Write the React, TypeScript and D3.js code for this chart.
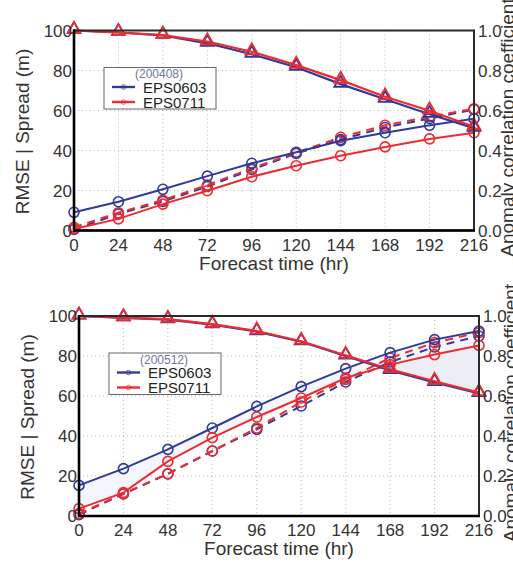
import React from "react";
import * as d3 from "d3";

const hours = [0, 24, 48, 72, 96, 120, 144, 168, 192, 216];
const leftTicks = [0, 20, 40, 60, 80, 100];
const rightTicks = [0, 0.2, 0.4, 0.6, 0.8, 1.0];

// Panel A (200408)
const accA0603 = [1.0, 0.99, 0.976, 0.936, 0.881, 0.816, 0.732, 0.656, 0.581, 0.512];
const accA0711 = [1.0, 0.99, 0.977, 0.944, 0.894, 0.827, 0.752, 0.669, 0.599, 0.519];
const rmseA0603 = [9.1, 14.4, 20.6, 27.2, 33.6, 39.1, 44.9, 48.9, 52.6, 55.9];
const rmseA0711 = [0.8, 5.8, 13.2, 19.9, 26.9, 32.4, 37.4, 41.8, 45.8, 48.9];
const spreadA0603 = [0.5, 8.3, 14.5, 22.0, 30.5, 38.5, 45.5, 51.5, 56.0, 60.5];
const spreadA0711 = [1.6, 8.9, 15.2, 22.7, 31.1, 38.9, 46.6, 52.6, 56.9, 60.9];

// Panel B (200512)
const accB0603 = [1.0, 0.991, 0.982, 0.957, 0.922, 0.871, 0.8, 0.728, 0.668, 0.613];
const accB0711 = [1.0, 0.992, 0.984, 0.959, 0.925, 0.874, 0.804, 0.734, 0.674, 0.617];
const rmseB0603 = [15.3, 23.7, 33.3, 44.0, 54.8, 64.7, 73.7, 81.7, 88.2, 92.5];
const rmseB0711 = [3.7, 11.7, 27.3, 39.2, 49.5, 59.0, 69.0, 75.7, 80.7, 85.3];
const spreadB0603 = [0.7, 11.0, 21.0, 32.5, 43.3, 55.0, 67.0, 77.0, 84.5, 90.0];
const spreadB0711 = [1.2, 11.2, 21.2, 32.5, 44.0, 57.0, 68.3, 79.0, 86.7, 91.7];

const seriesNames = ["EPS0603", "EPS0711"];
const periodA = "(200408)";
const periodB = "(200512)";
const BLUE = "#2f3a9a";
const RED = "#ee2b30";
const FONT = "'Liberation Sans', Arial, sans-serif";

type PanelProps = {
  left: number;
  top: number;
  title: string;
  acc: number[][];
  rmse: number[][];
  spread: number[][];
  fillRmseGap: boolean;
  fillCross: boolean;
  rightLabelX: number;
};

const W = 400;
const H = 200;

function Panel(p: PanelProps) {
  const x = d3.scaleLinear().domain([0, 216]).range([0, W]);
  const y = d3.scaleLinear().domain([0, 100]).range([H, 0]);
  const yr = d3.scaleLinear().domain([0, 1]).range([H, 0]);
  const colors = [BLUE, RED];

  const lineL = d3
    .line<number>()
    .x((_, i) => x(hours[i]))
    .y((v) => y(v));
  const lineR = d3
    .line<number>()
    .x((_, i) => x(hours[i]))
    .y((v) => yr(v));

  const gapArea = d3
    .area<number>()
    .x((_, i) => x(hours[i]))
    .y0((_, i) => y(p.rmse[1][i]))
    .y1((_, i) => y(p.rmse[0][i]));

  let crossPath = "";
  if (p.fillCross) {
    const r = p.rmse[1];
    const a = p.acc[1].map((v) => v * 100);
    const pts: [number, number, number][] = [];
    for (let i = 0; i < hours.length; i++) {
      const d = r[i] - a[i];
      if (i > 0) {
        const dp = r[i - 1] - a[i - 1];
        if (dp <= 0 && d > 0) {
          const t = dp / (dp - d);
          const h = hours[i - 1] + t * (hours[i] - hours[i - 1]);
          const v = r[i - 1] + t * (r[i] - r[i - 1]);
          pts.push([h, v, v]);
        }
      }
      if (d > 0) pts.push([hours[i], r[i], a[i]]);
    }
    crossPath =
      d3
        .area<[number, number, number]>()
        .x((d) => x(d[0]))
        .y0((d) => y(d[2]))
        .y1((d) => y(d[1]))(pts) || "";
  }

  const tri = d3.symbol().type(d3.symbolTriangle).size(70)() || "";

  const legendX = 30;
  const legendY = 37;

  return (
    <g>
      <g transform={`translate(${p.left},${p.top})`}>
        {hours.slice(1, -1).map((h) => (
          <line
            key={"gx" + h}
            x1={x(h)}
            x2={x(h)}
            y1={0}
            y2={H}
            stroke="#b8b8b8"
            strokeWidth={1}
            strokeDasharray="1,3"
          />
        ))}
        {leftTicks.slice(1, -1).map((t) => (
          <line
            key={"gy" + t}
            x1={0}
            x2={W}
            y1={y(t)}
            y2={y(t)}
            stroke="#b8b8b8"
            strokeWidth={1}
            strokeDasharray="1,3"
          />
        ))}
        {p.fillRmseGap && <path d={gapArea(p.rmse[0]) || ""} fill="#f5f6fb" stroke="none" />}
        {p.fillCross && <path d={crossPath} fill="#eceef3" stroke="none" />}

        {p.spread.map((s, k) => (
          <g key={"sp" + k}>
            <path
              d={lineL(s) || ""}
              fill="none"
              stroke={colors[k]}
              strokeWidth={2}
              strokeDasharray="8,6"
            />
            {s.map((v, i) => (
              <circle
                key={i}
                cx={x(hours[i])}
                cy={y(v)}
                r={5}
                fill="none"
                stroke={colors[k]}
                strokeWidth={1.6}
              />
            ))}
          </g>
        ))}
        {p.rmse.map((s, k) => (
          <g key={"rm" + k}>
            <path d={lineL(s) || ""} fill="none" stroke={colors[k]} strokeWidth={2} />
            {s.map((v, i) => (
              <circle
                key={i}
                cx={x(hours[i])}
                cy={y(v)}
                r={5}
                fill="none"
                stroke={colors[k]}
                strokeWidth={1.6}
              />
            ))}
          </g>
        ))}
        {p.acc.map((s, k) => (
          <g key={"ac" + k}>
            <path d={lineR(s) || ""} fill="none" stroke={colors[k]} strokeWidth={2.2} />
            {s.map((v, i) => (
              <path
                key={i}
                d={tri}
                transform={`translate(${x(hours[i])},${yr(v) - 1})`}
                fill="none"
                stroke={colors[k]}
                strokeWidth={1.8}
              />
            ))}
          </g>
        ))}

        <rect x={0} y={0} width={W} height={H} fill="none" stroke="#2a2a2a" strokeWidth={2} />
        <line x1={0} x2={0} y1={-1} y2={H + 1} stroke="#000" strokeWidth={2.6} />
        <line x1={-1} x2={W + 1} y1={H} y2={H} stroke="#000" strokeWidth={2.6} />

        <g transform={`translate(${legendX},${legendY})`}>
          <rect x={0} y={0} width={112} height={41.5} fill="#fff" stroke="#666" strokeWidth={1} />
          <text
            x={55}
            y={10.5}
            textAnchor="middle"
            fontSize={12}
            fill="#6b7896"
            fontFamily={FONT}
          >
            {p.title}
          </text>
          {seriesNames.map((n, k) => (
            <g key={n} transform={`translate(0,${19.5 + k * 15})`}>
              <line x1={8} x2={31} y1={0} y2={0} stroke={colors[k]} strokeWidth={2.4} />
              <circle cx={19.5} cy={0} r={2.3} fill="none" stroke={colors[k]} strokeWidth={1} opacity={0.7} />
              <text x={39} y={5.5} fontSize={15} fill="#222" fontFamily={FONT}>
                {n}
              </text>
            </g>
          ))}
        </g>

        {leftTicks.map((t) => (
          <text
            key={"lt" + t}
            x={-2}
            y={y(t)}
            dy="0.36em"
            textAnchor="end"
            fontSize={17}
            fill="#333"
            fontFamily={FONT}
          >
            {t}
          </text>
        ))}
        {rightTicks.map((t) => (
          <text
            key={"rt" + t}
            x={W + 4}
            y={yr(t)}
            dy="0.36em"
            textAnchor="start"
            fontSize={17}
            fill="#333"
            fontFamily={FONT}
          >
            {t.toFixed(1)}
          </text>
        ))}
        {hours.map((h) => (
          <text
            key={"bt" + h}
            x={x(h)}
            y={H + 20}
            textAnchor="middle"
            fontSize={17}
            fill="#333"
            fontFamily={FONT}
          >
            {h}
          </text>
        ))}
        <text
          x={W / 2}
          y={H + 39}
          textAnchor="middle"
          fontSize={19}
          fill="#333"
          fontFamily={FONT}
        >
          Forecast time (hr)
        </text>
        <text
          transform={`translate(${-52},${H / 2 + 1}) rotate(-90)`}
          textAnchor="middle"
          dy="0.35em"
          fontSize={19}
          fill="#333"
          fontFamily={FONT}
        >
          RMSE | Spread (m)
        </text>
      </g>
      <text
        transform={`translate(${p.rightLabelX},${p.top + H / 2 - 3}) rotate(-90)`}
        textAnchor="middle"
        dy="0.35em"
        fontSize={19}
        fill="#333"
        fontFamily={FONT}
      >
        Anomaly correlation coefficient
      </text>
    </g>
  );
}

export default function App() {
  return (
    <svg
      width={513}
      height={566}
      style={{ position: "absolute", left: 0, top: 0, background: "#fff" }}
    >
      <rect width={513} height={566} fill="#fff" />
      <Panel
        left={74}
        top={30.5}
        title={periodA}
        acc={[accA0603, accA0711]}
        rmse={[rmseA0603, rmseA0711]}
        spread={[spreadA0603, spreadA0711]}
        fillRmseGap={false}
        fillCross={false}
        rightLabelX={507}
      />
      <Panel
        left={79}
        top={316}
        title={periodB}
        acc={[accB0603, accB0711]}
        rmse={[rmseB0603, rmseB0711]}
        spread={[spreadB0603, spreadB0711]}
        fillRmseGap={true}
        fillCross={true}
        rightLabelX={510}
      />
    </svg>
  );
}
